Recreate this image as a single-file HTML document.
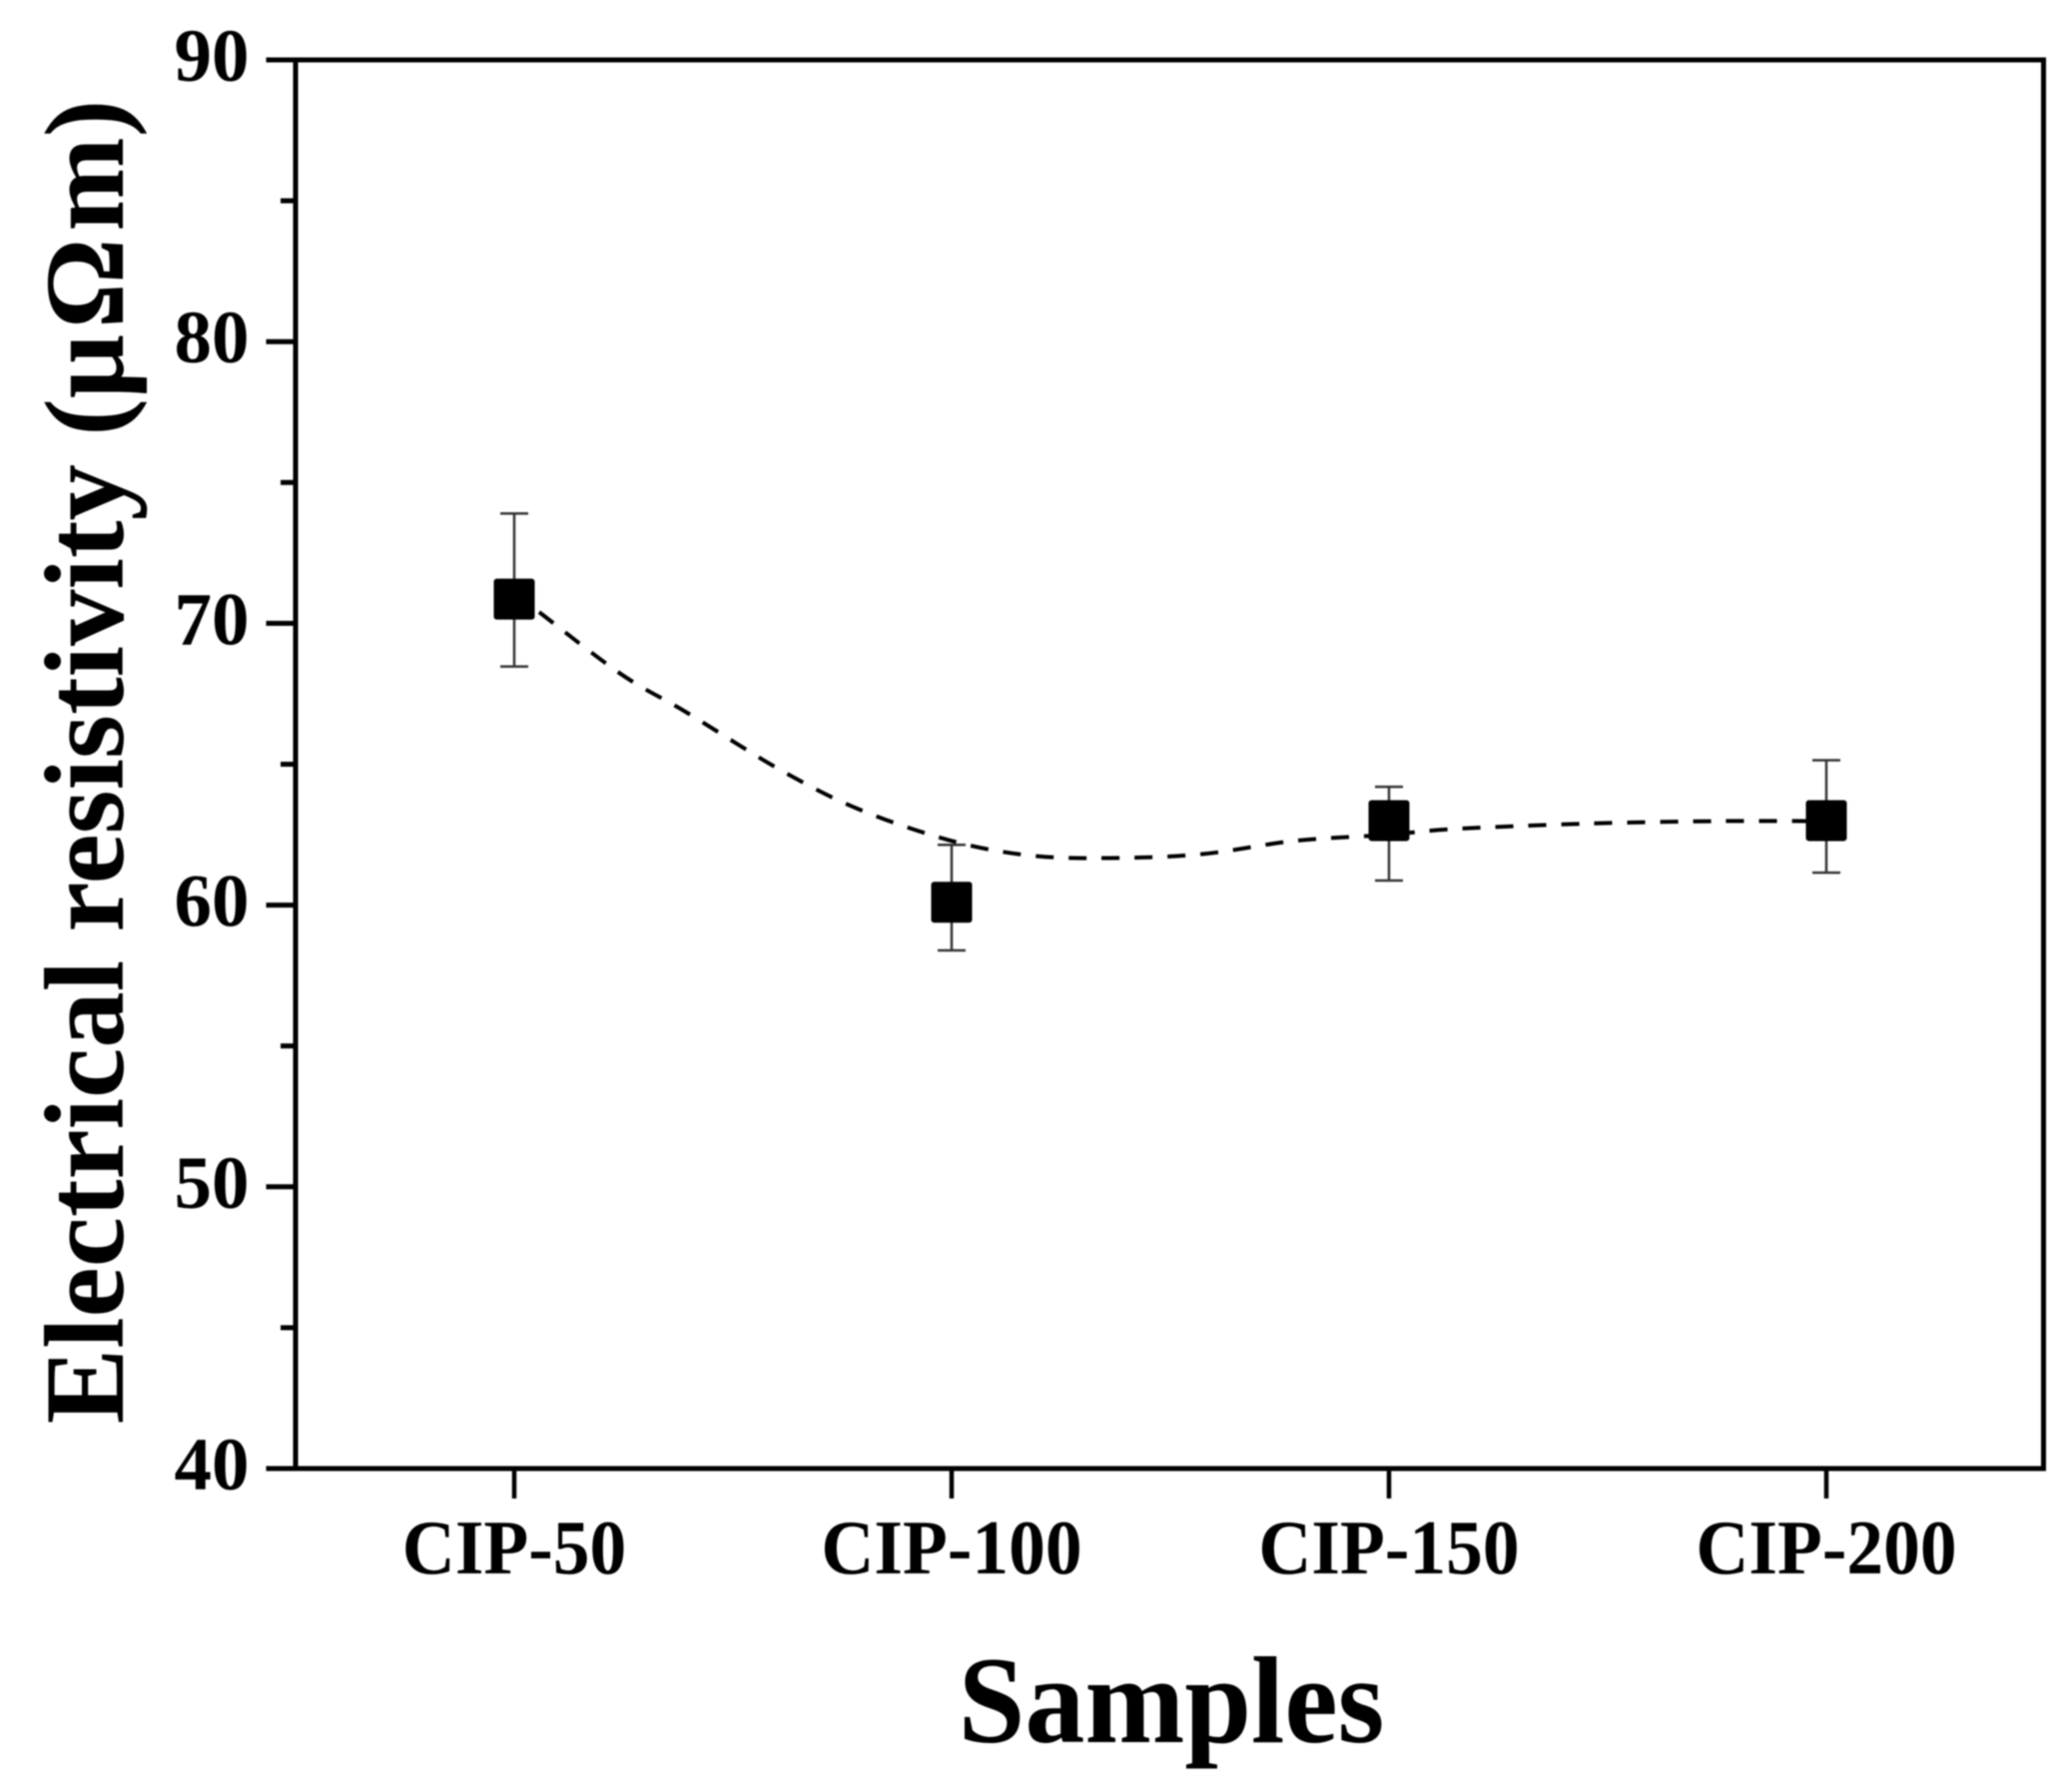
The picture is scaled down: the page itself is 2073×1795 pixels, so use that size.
<!DOCTYPE html>
<html lang="en">
<head>
<meta charset="utf-8">
<title>Electrical resistivity of CIP samples</title>
<style>
  html, body { margin: 0; padding: 0; background: #fff; }
  body { width: 2073px; height: 1795px; overflow: hidden; }
  svg { display: block; filter: blur(0.7px); }
  text { font-family: "Liberation Serif", "DejaVu Serif", serif; font-weight: bold; fill: #000; }
</style>
</head>
<body>
<svg id="chart" xmlns="http://www.w3.org/2000/svg" width="2073" height="1795" viewBox="0 0 2073 1795">
  <rect x="0" y="0" width="2073" height="1795" fill="#fff"/>
  <g id="series"></g>
  <rect x="296" y="60" width="1750.5" height="1411" fill="none" stroke="#000" stroke-width="5"/>
  <g id="axes"></g>
  <text transform="translate(1173 1745) scale(1 1.03)" text-anchor="middle" font-size="120">Samples</text>
  <text transform="translate(123 763) rotate(-90)" text-anchor="middle" font-size="113">Electrical resistivity (μ<tspan dx="6">Ω</tspan><tspan dx="7">m)</tspan></text>
</svg>
<script>
const categories = ['CIP-50', 'CIP-100', 'CIP-150', 'CIP-200'];
const resistivity = [70.86, 60.1, 63.0, 63.0];
const errorUpper = [73.9, 62.14, 64.2, 65.14];
const errorLower = [68.47, 58.39, 60.87, 61.15];
const yMajorTicks = [40, 50, 60, 70, 80, 90];
const yMinorTicks = [45, 55, 65, 75, 85];
const curvePosition = [0.057, 0.244, 0.395, 0.607, 0.788, 1.0, 1.18, 1.361, 1.573, 1.784, 2.0, 2.146, 2.448, 2.75, 3.0];
const curveValues = [70.4, 68.2, 66.83, 64.81, 63.4, 62.28, 61.76, 61.67, 61.81, 62.28, 62.5, 62.7, 62.89, 62.98, 62.98];

const NS = 'http://www.w3.org/2000/svg';
const plotBottom = 1471, unitHeight = 28.22, yMin = 40;
const firstCategoryX = 515, categoryStep = 438;
const yScale = v => plotBottom - (v - yMin) * unitHeight;
const xScale = i => firstCategoryX + i * categoryStep;

function make(tag, attrs, parent) {
  const el = document.createElementNS(NS, tag);
  for (const k in attrs) el.setAttribute(k, attrs[k]);
  parent.appendChild(el);
  return el;
}

const axes = document.getElementById('axes');
const series = document.getElementById('series');

yMajorTicks.forEach(v => {
  const tick = make('line', { x1: 266.5, x2: 296, y1: yScale(v), y2: yScale(v), stroke: '#000', 'stroke-width': 5 }, axes);
  
  
  const label = make('text', { x: 249.5, y: yScale(v) + 21, 'text-anchor': 'end', 'font-size': 75 }, axes);
  
  
  label.textContent = v;
});

yMinorTicks.forEach(v => {
  const tick = make('line', { x1: 281, x2: 296, y1: yScale(v), y2: yScale(v), stroke: '#000', 'stroke-width': 5 }, axes);
  
  
});

categories.forEach((c, i) => {
  const tick = make('line', { x1: xScale(i), x2: xScale(i), y1: plotBottom, y2: 1501, stroke: '#000', 'stroke-width': 4.5 }, axes);
  
  
  const label = make('text', { transform: 'translate(' + xScale(i) + ' 1576) scale(1 1.05)', 'text-anchor': 'middle', 'font-size': 73.5 }, axes);
  
  
  label.textContent = c;
});

/* Smooth dashed trend line through the values */
const pts = curvePosition.map((p, i) => [xScale(p), yScale(curveValues[i])]);
let d = 'M' + pts[0][0] + ' ' + pts[0][1];
for (let i = 0; i < pts.length - 1; i++) {
  const p0 = pts[Math.max(i - 1, 0)], p1 = pts[i], p2 = pts[i + 1], p3 = pts[Math.min(i + 2, pts.length - 1)];
  const c1x = p1[0] + (p2[0] - p0[0]) / 6, c1y = p1[1] + (p2[1] - p0[1]) / 6;
  const c2x = p2[0] - (p3[0] - p1[0]) / 6, c2y = p2[1] - (p3[1] - p1[1]) / 6;
  d += ' C' + c1x + ' ' + c1y + ' ' + c2x + ' ' + c2y + ' ' + p2[0] + ' ' + p2[1];
}
const trend = make('path', { d: d, fill: 'none', stroke: '#000', 'stroke-width': 4, 'stroke-dasharray': '18 15' }, series);



categories.forEach((c, i) => {
  const x = xScale(i);
  const stem = make('line', { x1: x, x2: x, y1: yScale(errorUpper[i]), y2: yScale(errorLower[i]), stroke: '#333', 'stroke-width': 2.5 }, series);
  
  
  const capTop = make('line', { x1: x - 14, x2: x + 14, y1: yScale(errorUpper[i]), y2: yScale(errorUpper[i]), stroke: '#333', 'stroke-width': 2.5 }, series);
  
  
  const capBottom = make('line', { x1: x - 14, x2: x + 14, y1: yScale(errorLower[i]), y2: yScale(errorLower[i]), stroke: '#333', 'stroke-width': 2.5 }, series);
  
  
  const marker = make('rect', { x: x - 20.5, y: yScale(resistivity[i]) - 20.5, width: 41, height: 41, rx: 3, fill: '#000' }, series);
  
  
});
</script>
</body>
</html>
